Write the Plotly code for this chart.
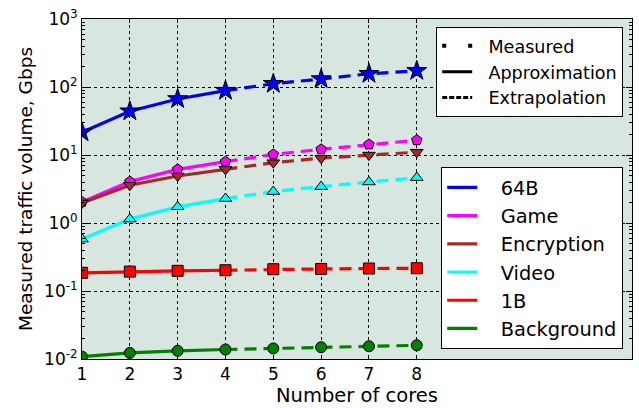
import plotly.graph_objects as go

# Number of cores (x axis)
cores = [1, 2, 3, 4, 5, 6, 7, 8]
approx_cores = [1, 2, 3, 4]      # drawn solid (approximation)
extrap_cores = [4, 5, 6, 7, 8]   # drawn dashed (extrapolation)

# Traffic volume per workload, Gbps
series_names = ["64B", "Game", "Encryption", "Video", "1B", "Background"]
vol_64b = [21.6, 44.0, 66.7, 88.3, 111.7, 131.0, 156.6, 173.0]
vol_game = [2.04, 4.06, 6.15, 7.98, 10.2, 12.1, 14.3, 16.5]
vol_encryption = [1.97, 3.59, 4.91, 6.15, 7.71, 8.98, 9.97, 11.0]
vol_video = [0.58, 1.14, 1.73, 2.29, 2.90, 3.43, 4.01, 4.65]
vol_1b = [0.185, 0.193, 0.198, 0.202, 0.209, 0.211, 0.214, 0.216]
vol_background = [0.0108, 0.0123, 0.0132, 0.0138, 0.0143, 0.0149, 0.0154, 0.0159]

series_values = [vol_64b, vol_game, vol_encryption, vol_video, vol_1b, vol_background]
series_colors = ["#0000ff", "#ff00ff", "#a52a2a", "#00ffff", "#ff0000", "#008000"]
series_symbols = ["star", "pentagon", "triangle-down", "triangle-up", "square", "circle"]

style_names = ["Measured", "Approximation", "Extrapolation"]

y_tickvals = [0.01, 0.1, 1, 10, 100, 1000]
y_ticktext = ["10<sup>-2</sup>", "10<sup>-1</sup>", "10<sup>0</sup>",
              "10<sup>1</sup>", "10<sup>2</sup>", "10<sup>3</sup>"]
# minor log ticks: 2..9 within each decade
y_minor = [m * d for d in [0.01, 0.1, 1, 10, 100] for m in range(2, 10)]

FONT = "DejaVu Sans"
LW = 3.2
NBSP = "\u00a0"

fig = go.Figure()

for name, vals, col in zip(series_names, series_values, series_colors):
    n_apx = len(approx_cores)
    # solid approximation segment (also the legend entry)
    fig.add_trace(go.Scatter(
        x=approx_cores, y=vals[:n_apx], mode="lines", name=NBSP * 3 + name,
        line=dict(color=col, width=LW), legend="legend2", showlegend=True))
    # dashed extrapolation segment
    fig.add_trace(go.Scatter(
        x=extrap_cores, y=vals[n_apx - 1:], mode="lines",
        line=dict(color=col, width=LW, dash="12px,7px"),
        showlegend=False, legend="legend2"))

for name, vals, col, sym in zip(series_names, series_values,
                                series_colors, series_symbols):
    size = 15 if sym == "star" else 11
    fig.add_trace(go.Scatter(
        x=cores, y=vals, mode="markers", showlegend=False,
        marker=dict(symbol=sym, size=size, color=col,
                    line=dict(color="black", width=1))))

# style key: measured / approximation / extrapolation
style_lines = [dict(color="black", width=4, dash="4px,22px"),
               dict(color="black", width=3),
               dict(color="black", width=3, dash="5px,2px")]
for sname, sline in zip(style_names, style_lines):
    fig.add_trace(go.Scatter(
        x=[None], y=[None], mode="lines", name=NBSP * 2 + sname,
        legend="legend", line=sline))

fig.update_layout(
    width=639, height=408,
    margin=dict(l=82, r=6, t=19, b=47),
    paper_bgcolor="white",
    plot_bgcolor="#d7e6de",
    font=dict(family=FONT, size=17, color="black"),
    legend=dict(
        x=0.984, y=0.977, xanchor="right", yanchor="top",
        bgcolor="white", bordercolor="black", borderwidth=1,
        font=dict(family=FONT, size=17.6), itemwidth=30),
    legend2=dict(
        x=0.984, y=0.564, xanchor="right", yanchor="top",
        bgcolor="white", bordercolor="black", borderwidth=1,
        font=dict(family=FONT, size=19.4), itemwidth=30),
)

fig.update_xaxes(
    range=[1, 12.5], tickvals=cores, ticktext=[str(c) for c in cores],
    showline=True, linecolor="black", linewidth=1, mirror="allticks",
    ticks="inside", ticklen=4, tickcolor="black",
    showgrid=True, gridcolor="black", griddash="dot", gridwidth=1,
    zeroline=False, tickfont=dict(family=FONT, size=17),
    title=dict(text="Number of cores", font=dict(family=FONT, size=19.5), standoff=4),
)

fig.update_yaxes(
    type="log", range=[-2, 3], tickvals=y_tickvals, ticktext=y_ticktext,
    showline=True, linecolor="black", linewidth=1, mirror="allticks",
    ticks="inside", ticklen=6, tickcolor="black",
    minor=dict(tickmode="array", tickvals=y_minor, ticks="inside", ticklen=3,
               tickcolor="black", showgrid=False),
    showgrid=True, gridcolor="black", griddash="dot", gridwidth=1,
    zeroline=False, tickfont=dict(family=FONT, size=17),
    title=dict(text="Measured traffic volume, Gbps",
               font=dict(family=FONT, size=18.5), standoff=6),
)

fig.write_html("out.html")
